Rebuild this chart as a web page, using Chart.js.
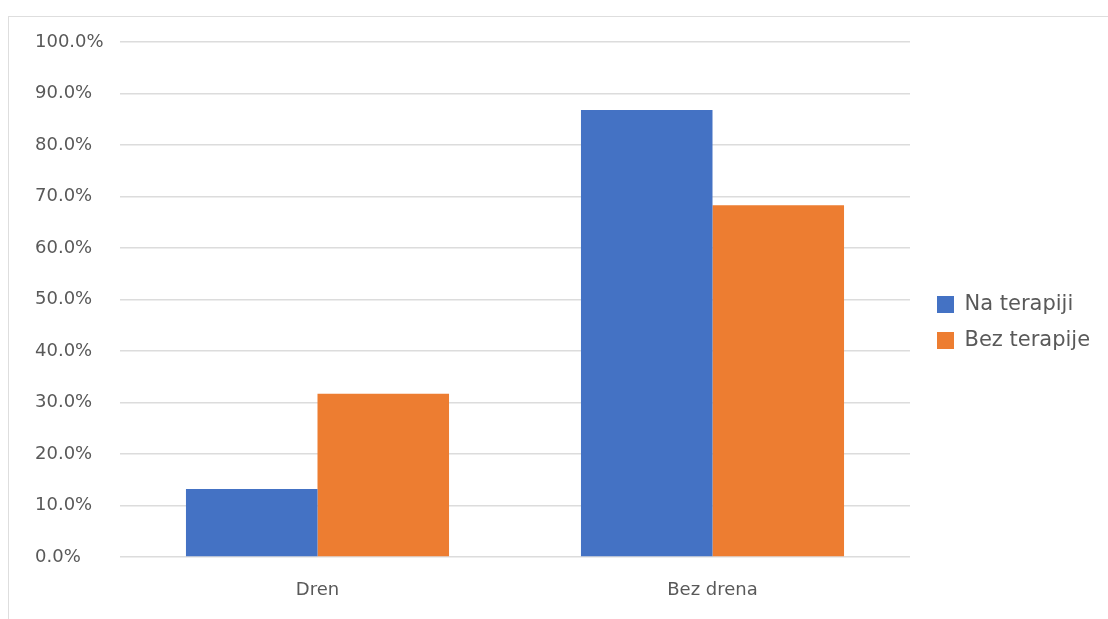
<!DOCTYPE html>
<html>
<head>
<meta charset="utf-8">
<script src="https://cdn.jsdelivr.net/npm/chart.js@4/dist/chart.umd.min.js"></script>
<style>
  body { margin: 0; background: #fff; }
  #wrap { position: relative; width: 1108px; height: 619px; overflow: hidden; }
  #chart { position: absolute; left: 0; top: 0; }
  #frame {
    position: absolute; left: 8px; top: 16px; width: 1200px; height: 700px;
    border-left: 1px solid #dedede; border-top: 1px solid #dedede;
    pointer-events: none;
  }
</style>
</head>
<body>
<div id="wrap">
  <canvas id="chart" width="1108" height="619"></canvas>
  <div id="frame"></div>
</div>
<script>
  const categories = ["Dren", "Bez drena"];
  const naTerapiji = [13.2, 86.8];
  const bezTerapije = [31.7, 68.3];
  const seriesNames = ["Na terapiji", "Bez terapije"];

  const textColor = "#595959";
  const fontFamily = "'DejaVu Sans', sans-serif";

  // legend sits a bit right of the plot and higher than Chart.js centers it
  const legendNudge = {
    id: "legendNudge",
    beforeInit(chart) {
      const fit = chart.legend.fit;
      chart.legend.fit = function () {
        fit.call(this);
        this.width = 198;
      };
    },
    afterLayout(chart) {
      const lg = chart.legend;
      lg.left += 12;
      lg.right += 12;
      lg.top -= 8;
      lg.bottom -= 8;
    },
  };

  const ctx = document.getElementById("chart").getContext("2d");
  new Chart(ctx, {
    type: "bar",
    data: {
      labels: categories,
      datasets: [
        {
          label: seriesNames[0],
          data: naTerapiji,
          backgroundColor: "#4472C4",
          borderWidth: 0,
        },
        {
          label: seriesNames[1],
          data: bezTerapije,
          backgroundColor: "#ED7D31",
          borderWidth: 0,
        },
      ],
    },
    options: {
      responsive: false,
      animation: false,
      layout: {
        padding: { left: 35, top: 42, right: 0, bottom: 0 },
      },
      datasets: {
        bar: { categoryPercentage: 0.666, barPercentage: 1.0 },
      },
      plugins: {
        tooltip: { enabled: false },
        legend: {
          position: "right",
          labels: {
            boxWidth: 17,
            boxHeight: 17,
            padding: 15,
            color: textColor,
            font: { family: fontFamily, size: 21 },
          },
        },
      },
      scales: {
        x: {
          grid: { display: false },
          border: { display: false },
          ticks: {
            color: textColor,
            padding: 15,
            font: { family: fontFamily, size: 18 },
          },
          afterFit: (s) => { s.height = 62; },
        },
        y: {
          min: 0,
          max: 100,
          border: { display: false },
          grid: { color: "#dcdcdc", lineWidth: 1.5, drawTicks: false },
          ticks: {
            stepSize: 10,
            crossAlign: "far",
            color: textColor,
            font: { family: fontFamily, size: 18 },
            callback: (v) => v.toFixed(1) + "%",
          },
          afterFit: (s) => { s.width = 85; },
        },
      },
    },
    plugins: [legendNudge],
  });
</script>
</body>
</html>
